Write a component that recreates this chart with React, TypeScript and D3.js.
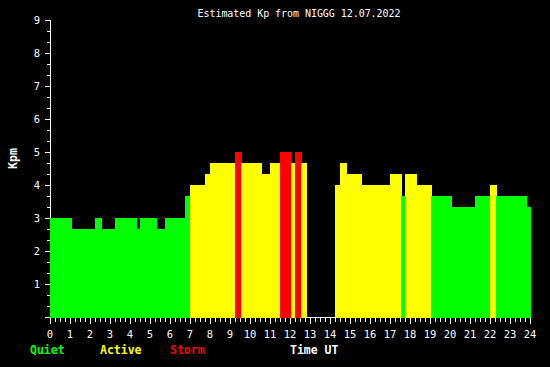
import * as d3 from "d3";

// step series: each value holds from its start hour until the next start
const segStart = [
  0, 1.05, 2.25, 2.55, 3.25, 4.3, 4.5, 5.3, 5.75, 6.75, 7.0, 7.75, 8.0, 9.25,
  9.55, 10.55, 11.0, 11.5, 12.05, 12.25, 12.55, 12.8, 14.25, 14.5, 14.8, 15.55,
  17.0, 17.55, 17.75, 18.3, 19.05, 20.05, 21.25, 22.0, 22.3, 23.8,
];
const kpValues: (number | null)[] = [
  3, 2.67, 3, 2.67, 3, 2.67, 3, 2.67, 3, 3.67, 4, 4.33, 4.67, 5, 4.67, 4.33,
  4.67, 5, 4.67, 5, 4.67, null, 4, 4.67, 4.33, 4, 4.33, 3.67, 4.33, 4, 3.67,
  3.33, 3.67, 4, 3.67, 3.33,
];
const dayEnd = 24;
const hourTicks = d3.range(0, 25);
const kpTicks = d3.range(1, 10);
const title = "Estimated Kp from NIGGG 12.07.2022";
const legendItems = [
  { label: "Quiet", color: "#00ff00" },
  { label: "Active", color: "#ffff00" },
  { label: "Storm", color: "#ff0000" },
];

const W = 550;
const H = 367;
const mono = "'DejaVu Sans Mono', 'Liberation Mono', monospace";

function kpColor(v: number) {
  if (v >= 5) return "#ff0000";
  if (v >= 4) return "#ffff00";
  return "#00ff00";
}

export default function App() {
  const x = d3.scaleLinear().domain([0, 24]).rangeRound([50, 530]);
  const y = d3.scaleLinear().domain([0, 9]).rangeRound([317, 20]);

  const bars = segStart.map((s, i) => ({
    x0: s,
    x1: i + 1 < segStart.length ? segStart[i + 1] : dayEnd,
    v: kpValues[i],
  }));

  const minorX = d3.range(0, 24 * 4 + 1).map((d) => d / 4);
  const minorY = d3.range(0, 9 * 3 + 1).map((d) => d / 3);

  return (
    <svg
      width={W}
      height={H}
      style={{ position: "fixed", left: 0, top: 0, background: "#000" }}
      shapeRendering="crispEdges"
    >
      <rect width={W} height={H} fill="#000" />
      <text
        x={299}
        y={17}
        fill="#fff"
        fontFamily={mono}
        fontSize={10}
        textAnchor="middle"
        textLength={203}
        lengthAdjust="spacing"
      >
        {title}
      </text>

      {/* axes */}
      <line x1={50.5} x2={50.5} y1={y(9)} y2={y(0) + 1} stroke="#fff" />
      <line x1={50} x2={531} y1={y(0) + 0.5} y2={y(0) + 0.5} stroke="#fff" />
      {minorY.map((d, i) => (
        <line
          key={"yt" + i}
          x1={i % 3 === 0 ? 45 : 47}
          x2={50}
          y1={y(d) + 0.5}
          y2={y(d) + 0.5}
          stroke="#fff"
        />
      ))}
      {minorX.map((d, i) => (
        <line
          key={"xt" + i}
          x1={x(d) + 0.5}
          x2={x(d) + 0.5}
          y1={y(0) + 1}
          y2={y(0) + (i % 4 === 0 ? 7 : 5)}
          stroke="#fff"
        />
      ))}

      {/* bars */}
      {bars.map((b, i) =>
        b.v == null ? null : (
          <rect
            key={"b" + i}
            x={x(b.x0)}
            width={x(b.x1) - x(b.x0) + 1}
            y={y(b.v)}
            height={y(0) + 1 - y(b.v)}
            fill={kpColor(b.v)}
          />
        ),
      )}

      {kpTicks.map((d) => (
        <text
          key={"yl" + d}
          x={40}
          y={y(d) + 4}
          fill="#fff"
          fontFamily={mono}
          fontSize={10.5}
          textAnchor="end"
        >
          {d}
        </text>
      ))}
      {hourTicks.map((d) => (
        <text
          key={"xl" + d}
          x={x(d)}
          y={338}
          fill="#fff"
          fontFamily={mono}
          fontSize={10.5}
          textAnchor="middle"
        >
          {d}
        </text>
      ))}

      <text
        transform="translate(13,158.5) rotate(-90)"
        fill="#fff"
        fontFamily={mono}
        fontSize={11.5}
        fontWeight="bold"
        textAnchor="middle"
        dominantBaseline="central"
      >
        Kpm
      </text>

      {legendItems.map((l, i) => (
        <text
          key={l.label}
          x={30 + i * 70}
          y={354}
          fill={l.color}
          fontFamily={mono}
          fontSize={11.5}
          fontWeight="bold"
        >
          {l.label}
        </text>
      ))}
      <text
        x={290}
        y={354}
        fill="#fff"
        fontFamily={mono}
        fontSize={11.5}
        fontWeight="bold"
      >
        Time UT
      </text>
    </svg>
  );
}
